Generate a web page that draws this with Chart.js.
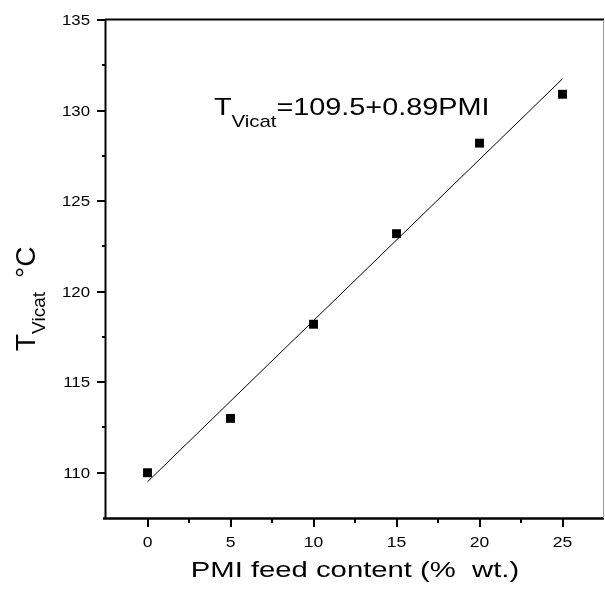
<!DOCTYPE html>
<html>
<head>
<meta charset="utf-8">
<script src="https://cdn.jsdelivr.net/npm/chart.js@4/dist/chart.umd.min.js"></script>
<style>
  html, body { margin: 0; padding: 0; background: #fff; }
  #wrap { width: 605px; height: 592px; }
</style>
</head>
<body>
<div id="wrap"><canvas id="vicatChart" width="605" height="592"></canvas></div>
<script>
// --- data ---
const feedContent = [0, 5, 10, 15, 20, 25];
const tVicat = [110.0, 113.0, 118.2, 123.2, 128.2, 130.9];
const fitX = [0, 25];
const fitY = [109.5, 131.75];

const xTicks = [0, 5, 10, 15, 20, 25];
const xMinor = [2.5, 7.5, 12.5, 17.5, 22.5];
const yTicks = [110, 115, 120, 125, 130, 135];
const yMinor = [112.5, 117.5, 122.5, 127.5, 132.5];

const FONT = '"Liberation Sans", Arial, sans-serif';

// the original scan is a bit wider than tall, so text gets stretched sideways
function wideText(ctx, text, x, y, size, align, k) {
    ctx.save();
    ctx.font = size + 'px ' + FONT;
    ctx.textAlign = align;
    ctx.textBaseline = 'alphabetic';
    ctx.translate(x, y);
    ctx.scale(k, 1);
    ctx.fillText(text, 0, 0);
    ctx.restore();
}

const axesPlugin = {
    id: 'originAxes',
    afterDraw(chart) {
        const ctx = chart.ctx;
        const a = chart.chartArea;
        const xs = chart.scales.x, ys = chart.scales.y;
        ctx.save();
        ctx.strokeStyle = '#000';
        ctx.fillStyle = '#000';

        // frame
        ctx.lineWidth = 2;
        ctx.beginPath();
        ctx.moveTo(a.left - 1, a.top - 0.5); ctx.lineTo(a.right, a.top - 0.5);
        ctx.moveTo(a.left - 0.5, a.top - 1); ctx.lineTo(a.left - 0.5, a.bottom + 1);
        ctx.stroke();
        ctx.lineWidth = 2.5;
        ctx.beginPath();
        ctx.moveTo(a.left - 3, a.bottom + 0.5); ctx.lineTo(a.right, a.bottom + 0.5);
        ctx.stroke();
        ctx.strokeStyle = '#999';
        ctx.lineWidth = 1;
        ctx.beginPath();
        ctx.moveTo(a.right - 0.5, a.top); ctx.lineTo(a.right - 0.5, a.bottom);
        ctx.stroke();

        // ticks
        ctx.strokeStyle = '#000';
        ctx.lineWidth = 2;
        ctx.beginPath();
        xTicks.forEach(v => { const px = Math.round(xs.getPixelForValue(v)); ctx.moveTo(px, a.bottom); ctx.lineTo(px, a.bottom + 9); });
        xMinor.forEach(v => { const px = Math.round(xs.getPixelForValue(v)); ctx.moveTo(px, a.bottom); ctx.lineTo(px, a.bottom + 5); });
        yTicks.forEach(v => { const py = Math.round(ys.getPixelForValue(v)); ctx.moveTo(a.left, py); ctx.lineTo(a.left - 9, py); });
        yMinor.forEach(v => { const py = Math.round(ys.getPixelForValue(v)); ctx.moveTo(a.left, py); ctx.lineTo(a.left - 4, py); });
        ctx.stroke();

        // tick labels
        xTicks.forEach(v => wideText(ctx, String(v), xs.getPixelForValue(v), a.bottom + 29, 14, 'center', 1.25));
        yTicks.forEach(v => wideText(ctx, String(v), a.left - 16, ys.getPixelForValue(v) + 5, 14, 'right', 1.2));

        // x title
        wideText(ctx, 'PMI feed content (%  wt.)', (a.left + a.right) / 2, a.bottom + 59, 22, 'center', 1.33);

        // y title: T_Vicat °C, rotated
        ctx.save();
        ctx.translate(35, 351);
        ctx.rotate(-Math.PI / 2);
        ctx.textAlign = 'left';
        ctx.font = '28px ' + FONT;
        ctx.fillText('T', 0, 0);
        let off = ctx.measureText('T').width;
        ctx.font = '19px ' + FONT;
        ctx.fillText('Vicat', off, 10);
        off += ctx.measureText('Vicat').width + 14;
        ctx.font = '28px ' + FONT;
        ctx.fillText('\u00B0C', off, 0);
        ctx.restore();

        // fit equation
        const ex = xs.getPixelForValue(4), ey = ys.getPixelForValue(129.75);
        const k = 1.2;
        ctx.save();
        ctx.translate(ex, ey);
        ctx.scale(k, 1);
        ctx.textAlign = 'left';
        ctx.font = '24px ' + FONT;
        ctx.fillText('T', 0, 0);
        let w = ctx.measureText('T').width;
        ctx.font = '17px ' + FONT;
        ctx.fillText('Vicat', w, 12);
        w += ctx.measureText('Vicat').width;
        ctx.font = '24px ' + FONT;
        ctx.fillText('=109.5+0.89PMI', w, 0);
        ctx.restore();

        ctx.restore();
    }
};

new Chart(document.getElementById('vicatChart'), {
    type: 'scatter',
    data: {
        datasets: [
            {
                label: 'T Vicat',
                data: feedContent.map((x, i) => ({ x: x, y: tVicat[i] })),
                pointStyle: 'rect',
                pointRadius: 6.3,
                pointHoverRadius: 6.3,
                backgroundColor: '#000',
                borderColor: '#000',
                borderWidth: 0
            },
            {
                label: 'fit',
                data: fitX.map((x, i) => ({ x: x, y: fitY[i] })),
                showLine: true,
                borderColor: '#000',
                borderWidth: 1,
                pointRadius: 0,
                fill: false
            }
        ]
    },
    options: {
        responsive: false,
        animation: false,
        layout: { autoPadding: false, padding: { left: 106, top: 20, right: 1, bottom: 74 } },
        plugins: { legend: { display: false }, tooltip: { enabled: false } },
        scales: {
            x: { type: 'linear', min: -2.5, max: 27.5, display: false },
            y: { type: 'linear', min: 107.5, max: 135, display: false }
        }
    },
    plugins: [axesPlugin]
});
</script>
</body>
</html>
